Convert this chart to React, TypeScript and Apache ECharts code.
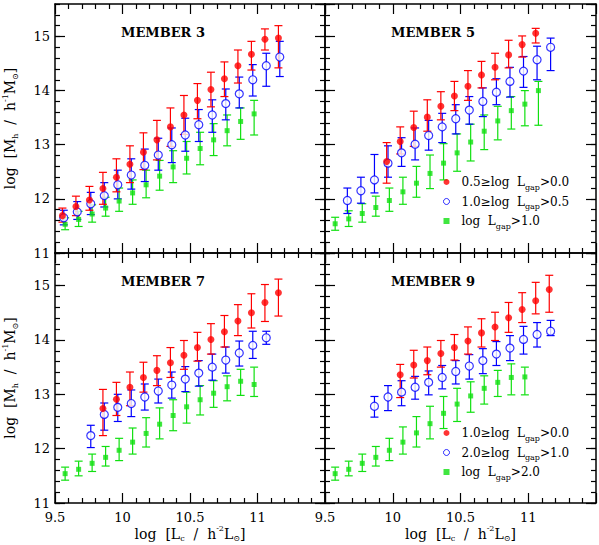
import React, { useEffect, useRef } from "react";
import * as echarts from "echarts";

// ---------- data: [logLc, logMh, lower, upper] ----------
const M3_RED = [
  [9.555, 11.69, 11.57, 11.83], [9.655, 11.86, 11.69, 12.05], [9.755, 11.98, 11.79, 12.23],
  [9.855, 12.19, 11.9, 12.49], [9.955, 12.4, 12.13, 12.74], [10.055, 12.64, 12.3, 12.98],
  [10.155, 12.86, 12.54, 13.22], [10.255, 13.09, 12.72, 13.45], [10.355, 13.33, 12.97, 13.68],
  [10.455, 13.55, 13.19, 13.91], [10.555, 13.82, 13.48, 14.13], [10.655, 14.02, 13.7, 14.34],
  [10.755, 14.22, 13.89, 14.53], [10.855, 14.46, 14.14, 14.75], [10.955, 14.67, 14.38, 14.91],
  [11.055, 14.95, 14.75, 15.14], [11.155, 14.97, 14.42, 15.2],
];
const M3_BLUE = [
  [9.565, 11.65, 11.52, 11.79], [9.665, 11.76, 11.62, 11.95], [9.765, 11.91, 11.71, 12.12],
  [9.865, 12.06, 11.85, 12.3], [9.965, 12.26, 12.0, 12.53], [10.065, 12.44, 12.18, 12.74],
  [10.165, 12.62, 12.32, 12.92], [10.265, 12.81, 12.53, 13.12], [10.365, 13.0, 12.67, 13.31],
  [10.465, 13.18, 12.88, 13.49], [10.565, 13.37, 13.06, 13.65], [10.665, 13.55, 13.23, 13.83],
  [10.765, 13.76, 13.46, 14.03], [10.865, 13.94, 13.68, 14.25], [10.965, 14.2, 13.9, 14.48],
  [11.065, 14.46, 14.08, 14.69], [11.165, 14.62, 14.26, 14.91],
];
const M3_GREEN = [
  [9.575, 11.53, 11.43, 11.65], [9.675, 11.62, 11.49, 11.77], [9.775, 11.72, 11.57, 11.89],
  [9.875, 11.83, 11.68, 12.03], [9.975, 11.96, 11.77, 12.2], [10.075, 12.11, 11.9, 12.35],
  [10.175, 12.26, 12.02, 12.53], [10.275, 12.42, 12.16, 12.71], [10.375, 12.59, 12.3, 12.89],
  [10.475, 12.75, 12.46, 13.06], [10.575, 12.93, 12.63, 13.23], [10.675, 13.09, 12.8, 13.39],
  [10.775, 13.26, 12.98, 13.55], [10.875, 13.43, 13.1, 13.68], [10.975, 13.57, 13.18, 13.82],
];

const M5_RED = [
  [9.955, 12.69, 12.29, 13.04], [10.055, 13.06, 12.83, 13.33], [10.155, 13.32, 12.97, 13.62],
  [10.255, 13.51, 13.25, 13.83], [10.355, 13.71, 13.46, 13.98], [10.455, 13.9, 13.63, 14.17],
  [10.555, 14.08, 13.82, 14.37], [10.655, 14.29, 14.05, 14.54], [10.755, 14.43, 14.2, 14.69],
  [10.855, 14.66, 14.42, 14.93], [10.955, 14.85, 14.62, 15.01], [11.055, 15.06, 14.88, 15.15],
];
const M5_BLUE = [
  [9.665, 11.97, 11.73, 12.2], [9.765, 12.15, 11.92, 12.4], [9.865, 12.35, 12.11, 12.82],
  [9.965, 12.66, 12.4, 12.98], [10.065, 12.85, 12.6, 13.13], [10.165, 13.01, 12.72, 13.31],
  [10.265, 13.17, 12.9, 13.45], [10.365, 13.33, 13.04, 13.58], [10.465, 13.48, 13.2, 13.74],
  [10.565, 13.64, 13.38, 13.89], [10.665, 13.8, 13.52, 14.05], [10.765, 13.97, 13.74, 14.22],
  [10.865, 14.17, 13.88, 14.43], [10.965, 14.36, 14.06, 14.63], [11.065, 14.57, 14.2, 14.82],
  [11.165, 14.8, 14.37, 14.97],
];
const M5_GREEN = [
  [9.575, 11.54, 11.42, 11.66], [9.675, 11.63, 11.49, 11.78], [9.775, 11.73, 11.57, 11.91],
  [9.875, 11.84, 11.68, 12.05], [9.975, 11.97, 11.77, 12.2], [10.075, 12.13, 11.9, 12.4],
  [10.175, 12.29, 12.03, 12.6], [10.275, 12.47, 12.19, 12.81], [10.375, 12.66, 12.35, 13.02],
  [10.475, 12.85, 12.51, 13.2], [10.575, 13.05, 12.7, 13.38], [10.675, 13.25, 12.91, 13.55],
  [10.775, 13.44, 13.09, 13.71], [10.875, 13.63, 13.29, 13.89], [10.975, 13.75, 13.35, 14.0],
  [11.075, 14.0, 13.36, 14.17],
];

const M7_RED = [
  [9.855, 12.74, 12.24, 13.09], [9.955, 12.91, 12.61, 13.22], [10.055, 13.13, 12.79, 13.41],
  [10.155, 13.31, 13.04, 13.59], [10.255, 13.44, 13.16, 13.71], [10.355, 13.58, 13.31, 13.86],
  [10.455, 13.72, 13.46, 13.99], [10.555, 13.86, 13.61, 14.14], [10.655, 14.01, 13.74, 14.3],
  [10.755, 14.15, 13.87, 14.45], [10.855, 14.35, 14.08, 14.65], [10.955, 14.5, 14.22, 14.85],
  [11.055, 14.69, 14.34, 15.02], [11.155, 14.87, 14.44, 15.12],
];
const M7_BLUE = [
  [9.765, 12.24, 12.02, 12.43], [9.865, 12.63, 12.34, 12.84], [9.965, 12.76, 12.5, 13.0],
  [10.065, 12.83, 12.59, 13.08], [10.165, 12.95, 12.71, 13.19], [10.265, 13.06, 12.84, 13.28],
  [10.365, 13.17, 12.93, 13.41], [10.465, 13.28, 13.05, 13.51], [10.565, 13.39, 13.15, 13.62],
  [10.665, 13.5, 13.26, 13.74], [10.765, 13.63, 13.39, 13.87], [10.865, 13.76, 13.52, 13.98],
  [10.965, 13.9, 13.66, 14.16], [11.065, 14.04, 13.92, 14.16],
];
const M7_GREEN = [
  [9.575, 11.54, 11.42, 11.66], [9.675, 11.62, 11.5, 11.77], [9.775, 11.73, 11.58, 11.9],
  [9.875, 11.84, 11.68, 12.04], [9.975, 11.97, 11.78, 12.19], [10.075, 12.12, 11.9, 12.38],
  [10.175, 12.28, 12.03, 12.57], [10.275, 12.45, 12.18, 12.75], [10.375, 12.61, 12.33, 12.9],
  [10.475, 12.77, 12.47, 13.04], [10.575, 12.9, 12.62, 13.16], [10.675, 13.02, 12.76, 13.25],
  [10.775, 13.14, 12.88, 13.34], [10.875, 13.24, 12.98, 13.46], [10.975, 13.18, 12.96, 13.5],
];

const M9_RED = [
  [10.055, 13.36, 12.94, 13.55], [10.155, 13.54, 13.3, 13.81], [10.255, 13.62, 13.36, 13.87],
  [10.355, 13.75, 13.5, 13.99], [10.455, 13.86, 13.63, 14.1], [10.555, 13.98, 13.74, 14.24],
  [10.655, 14.13, 13.87, 14.39], [10.755, 14.24, 13.99, 14.51], [10.855, 14.41, 14.14, 14.69],
  [10.955, 14.56, 14.32, 14.87], [11.055, 14.72, 14.48, 15.06], [11.155, 14.93, 14.51, 15.19],
];
const M9_BLUE = [
  [9.865, 12.78, 12.58, 12.96], [9.965, 12.95, 12.7, 13.16], [10.065, 13.04, 12.79, 13.25],
  [10.165, 13.13, 12.91, 13.33], [10.265, 13.22, 12.99, 13.43], [10.365, 13.31, 13.1, 13.53],
  [10.465, 13.42, 13.19, 13.62], [10.565, 13.52, 13.28, 13.73], [10.665, 13.62, 13.38, 13.84],
  [10.765, 13.74, 13.53, 13.97], [10.865, 13.85, 13.62, 14.08], [10.965, 14.01, 13.74, 14.25],
  [11.065, 14.1, 13.87, 14.32], [11.165, 14.16, 14.08, 14.36],
];
const M9_GREEN = [
  [9.575, 11.54, 11.42, 11.66], [9.675, 11.62, 11.5, 11.77], [9.775, 11.73, 11.58, 11.9],
  [9.875, 11.84, 11.68, 12.04], [9.975, 11.97, 11.78, 12.19], [10.075, 12.12, 11.9, 12.4],
  [10.175, 12.29, 12.03, 12.59], [10.275, 12.46, 12.18, 12.78], [10.375, 12.65, 12.37, 12.96],
  [10.475, 12.82, 12.5, 13.11], [10.575, 12.97, 12.67, 13.23], [10.675, 13.11, 12.82, 13.34],
  [10.775, 13.22, 12.96, 13.44], [10.875, 13.31, 12.99, 13.56], [10.975, 13.32, 12.99, 13.5],
];

const PANEL_TITLES = ["MEMBER 3", "MEMBER 5", "MEMBER 7", "MEMBER 9"];
// legend labels: [before subscript, subscript, after]
const LEGEND_M5 = [
  ["0.5≥log  L", "gap", ">0.0"],
  ["1.0≥log  L", "gap", ">0.5"],
  ["log  L", "gap", ">1.0"],
];
const LEGEND_M9 = [
  ["1.0≥log  L", "gap", ">0.0"],
  ["2.0≥log  L", "gap", ">1.0"],
  ["log  L", "gap", ">2.0"],
];

const X_MIN = 9.5, X_MAX = 11.5, X_INT = 0.5;
const Y_MIN = 11, Y_MAX = 15.6, Y_INT = 1, Y_MINOR = 0.2;

// ---------- styling ----------
const FF = '"DejaVu Serif", serif';
const RED = "#ff0000";
const BLUE = "#0000ff";
const GREEN = "#10e010";

const GRIDS = [
  { left: 55, top: 4, width: 270, height: 249 },
  { left: 325, top: 4, width: 271, height: 249 },
  { left: 55, top: 253, width: 270, height: 250 },
  { left: 325, top: 253, width: 271, height: 250 },
];

const rich = {
  a: { fontFamily: FF, fontSize: 14, lineHeight: 18, color: "#000" },
  b: { fontFamily: FF, fontSize: 8, lineHeight: 8, verticalAlign: "bottom", color: "#000" },
  c: { fontFamily: FF, fontSize: 8, lineHeight: 9, verticalAlign: "top", color: "#000" },
};
const legRich = {
  a: { fontFamily: FF, fontSize: 12, lineHeight: 18, color: "#000" },
  b: { fontFamily: FF, fontSize: 8, lineHeight: 8, verticalAlign: "bottom", color: "#000" },
};

const Y_NAME = "{a|log  [M}{b|h}{a|  /  h}{c|-1}{a|M}{b|⊙}{a|]}";
const X_NAME = "{a|log  [L}{b|c}{a|  /  h}{c|-2}{a|L}{b|⊙}{a|]}";

const labelName = (p: string[]) => `${p[0]}_${p[1]}${p[2]}`;

function errorBar(color: string) {
  return (params: any, api: any) => {
    const x = api.value(0);
    const lo = api.coord([x, api.value(2)]);
    const hi = api.coord([x, api.value(3)]);
    const w = 4;
    const style = { stroke: color, lineWidth: 1.2 };
    return {
      type: "group",
      children: [
        { type: "line", shape: { x1: lo[0], y1: lo[1], x2: hi[0], y2: hi[1] }, style },
        { type: "line", shape: { x1: lo[0] - w, y1: lo[1], x2: lo[0] + w, y2: lo[1] }, style },
        { type: "line", shape: { x1: hi[0] - w, y1: hi[1], x2: hi[0] + w, y2: hi[1] }, style },
      ],
    };
  };
}

function buildOption() {
  const tickLine = { color: "#000", width: 1.2 };
  const frameLine = { color: "#000", width: 1.5 };
  const labelStyle = { fontFamily: FF, fontSize: 13, color: "#000" };

  const xAxis: any[] = [];
  const yAxis: any[] = [];
  GRIDS.forEach((_, g) => {
    const bottomRow = g >= 2;
    const leftCol = g % 2 === 0;
    const xc = {
      type: "value", gridIndex: g, min: X_MIN, max: X_MAX, interval: X_INT,
      splitLine: { show: false }, minorSplitLine: { show: false },
      axisLine: { show: true, onZero: false, lineStyle: frameLine },
      axisTick: { show: true, inside: true, length: 10, lineStyle: tickLine },
      minorTick: { show: true, splitNumber: 5, length: 5, lineStyle: tickLine },
    };
    xAxis.push({
      ...xc, position: "bottom",
      axisLabel: { show: bottomRow, showMaxLabel: false, showMinLabel: true, margin: 8, ...labelStyle },
      name: bottomRow ? X_NAME : "", nameLocation: "middle", nameGap: 21,
      nameTextStyle: { fontFamily: FF, fontSize: 14, color: "#000", rich },
    });
    xAxis.push({ ...xc, position: "top", axisLabel: { show: false } });

    const yc = {
      type: "value", gridIndex: g, min: Y_MIN, max: Y_MAX,
      splitLine: { show: false },
    };
    const major = {
      ...yc, interval: Y_INT,
      axisLine: { show: true, onZero: false, lineStyle: frameLine },
      axisTick: { show: true, inside: true, length: 10, lineStyle: tickLine },
    };
    const minor = {
      ...yc, interval: Y_MINOR,
      axisLine: { show: false, onZero: false },
      axisTick: { show: true, inside: true, length: 5, lineStyle: tickLine },
      axisLabel: { show: false },
    };
    yAxis.push({
      ...major, position: "left",
      axisLabel: { show: leftCol, showMaxLabel: false, showMinLabel: true, margin: 5, ...labelStyle },
      name: leftCol ? Y_NAME : "", nameLocation: "middle", nameRotate: 90, nameGap: 36,
      nameTextStyle: { fontFamily: FF, fontSize: 14, color: "#000", rich },
    });
    yAxis.push({ ...minor, position: "left" });
    yAxis.push({ ...major, position: "right", axisLabel: { show: false } });
    yAxis.push({ ...minor, position: "right" });
  });

  const panels = [
    { red: M3_RED, blue: M3_BLUE, green: M3_GREEN, legend: null as any },
    { red: M5_RED, blue: M5_BLUE, green: M5_GREEN, legend: LEGEND_M5 },
    { red: M7_RED, blue: M7_BLUE, green: M7_GREEN, legend: null as any },
    { red: M9_RED, blue: M9_BLUE, green: M9_GREEN, legend: LEGEND_M9 },
  ];

  const series: any[] = [];
  const nameMap: Record<string, string[]> = {};
  panels.forEach((p, g) => {
    const groups = [
      { data: p.green, color: GREEN, symbol: "rect", size: 5, key: "green", li: 2, hollow: false },
      { data: p.blue, color: BLUE, symbol: "circle", size: 8, key: "blue", li: 1, hollow: true },
      { data: p.red, color: RED, symbol: "circle", size: 7, key: "red", li: 0, hollow: false },
    ];
    groups.forEach((gr) => {
      const axes = { xAxisIndex: 2 * g, yAxisIndex: 4 * g };
      series.push({
        type: "custom", name: `eb-${g}-${gr.key}`, ...axes,
        data: gr.data, renderItem: errorBar(gr.color),
        encode: { x: 0, y: 1 }, z: 2, silent: true,
      });
      let name = `pt-${g}-${gr.key}`;
      if (p.legend) {
        name = labelName(p.legend[gr.li]);
        nameMap[name] = p.legend[gr.li];
      }
      series.push({
        type: "scatter", name, ...axes,
        data: gr.data.map((r) => [r[0], r[1]]),
        symbol: gr.symbol, symbolSize: gr.size,
        itemStyle: gr.hollow
          ? { color: "#ffffff", borderColor: gr.color, borderWidth: 1.2 }
          : { color: gr.color, borderWidth: 0 },
        z: 3, silent: true,
      });
    });
  });

  const legendFormatter = (name: string) => {
    const p = nameMap[name];
    return p ? `{a|${p[0]}}{b|${p[1]}}{a|${p[2]}}` : name;
  };
  const legendData = (labels: string[][]) =>
    labels.map((l, i) => {
      const name = labelName(l);
      if (i === 0) return { name, icon: "circle", itemStyle: { color: RED, borderWidth: 0 } };
      if (i === 1)
        return { name, icon: "circle", itemStyle: { color: "#ffffff", borderColor: BLUE, borderWidth: 1 } };
      return { name, icon: "rect", itemStyle: { color: GREEN, borderWidth: 0 } };
    });
  const legendBase = {
    orient: "vertical", itemWidth: 6, itemHeight: 6, itemGap: 4.5,
    selectedMode: false, formatter: legendFormatter, padding: 0,
    textStyle: { fontFamily: FF, fontSize: 12, color: "#000", padding: [0, 0, 0, 7], rich: legRich },
  };

  return {
    animation: false,
    backgroundColor: "#fff",
    grid: GRIDS.map((g) => ({ ...g, containLabel: false, outerBoundsMode: "none", show: false })),
    xAxis, yAxis, series,
    legend: [
      { ...legendBase, left: 443, top: 176, data: legendData(LEGEND_M5) },
      { ...legendBase, left: 443, top: 427, data: legendData(LEGEND_M9) },
    ],
    graphic: PANEL_TITLES.map((t, i) => ({
      type: "text",
      x: GRIDS[i].left + 108,
      y: GRIDS[i].top + 28,
      style: {
        text: t, fill: "#000", font: `bold 13px ${FF}`,
        align: "center", verticalAlign: "middle",
      },
    })),
  };
}

export default function App() {
  const ref = useRef<HTMLDivElement>(null);
  useEffect(() => {
    if (!ref.current) return;
    const chart = echarts.init(ref.current, null, { renderer: "svg" });
    chart.setOption(buildOption() as any);
    return () => chart.dispose();
  }, []);
  return (
    <div
      ref={ref}
      style={{ position: "fixed", left: 0, top: 0, width: 599, height: 545, background: "#fff" }}
    />
  );
}
